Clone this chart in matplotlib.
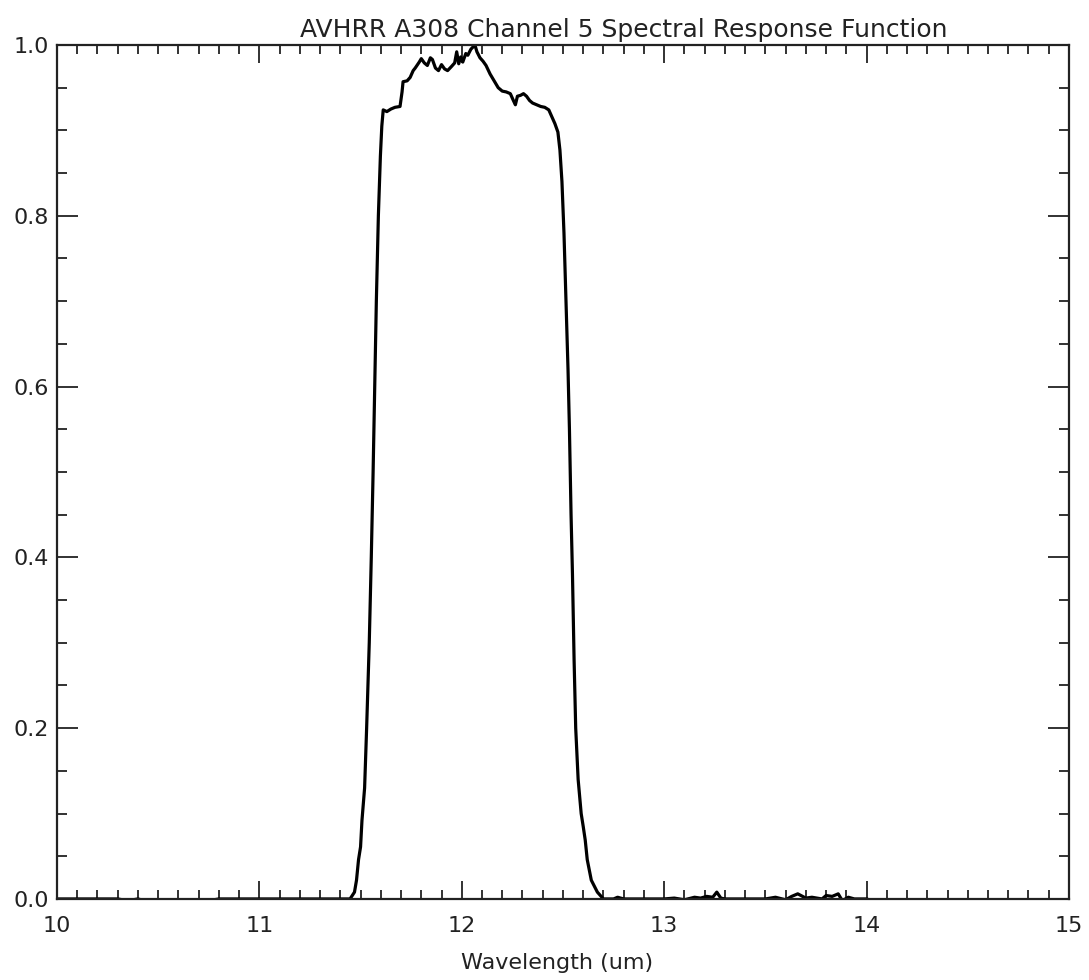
import matplotlib
matplotlib.use("Agg")
import matplotlib.pyplot as plt
from matplotlib.ticker import MultipleLocator

# Spectral response
wavelength = [
    10.00, 10.30, 10.35, 10.40, 10.45, 10.50, 10.55, 10.60, 10.65, 10.70, 10.75, 10.80,
    11.00, 11.20, 11.40, 11.448,
    11.47, 11.48, 11.49, 11.50, 11.507, 11.52, 11.53, 11.543, 11.553, 11.562, 11.570,
    11.578, 11.588, 11.598, 11.605, 11.612, 11.63, 11.65, 11.67, 11.695, 11.705, 11.71,
    11.73, 11.745, 11.76, 11.77, 11.79, 11.80, 11.815, 11.83, 11.845, 11.855, 11.87,
    11.885, 11.90, 11.915, 11.93, 11.95, 11.965, 11.975, 11.985, 11.995, 12.005, 12.02,
    12.03, 12.045, 12.065, 12.075, 12.09, 12.105, 12.12, 12.14, 12.16, 12.18, 12.20,
    12.22, 12.24, 12.255, 12.265, 12.275, 12.29, 12.305, 12.32, 12.335, 12.35, 12.37,
    12.39, 12.41, 12.43, 12.445, 12.46, 12.475, 12.485, 12.495, 12.505, 12.515, 12.525,
    12.532, 12.54, 12.547, 12.555, 12.563, 12.575, 12.590, 12.600, 12.61, 12.62, 12.64,
    12.67, 12.70,
    12.75, 12.77, 12.80, 13.00, 13.05, 13.10, 13.15, 13.18, 13.21, 13.24, 13.26, 13.28,
    13.30, 13.50, 13.55, 13.60, 13.63, 13.66, 13.70, 13.73, 13.78, 13.80, 13.83, 13.86,
    13.88, 13.91, 13.94, 14.00,
]
response = [
    0.000, 0.000, -0.002, 0.000, -0.003, -0.001, -0.004, -0.002, -0.003, -0.001, -0.002, 0.000,
    0.000, 0.000, 0.000, 0.000,
    0.008, 0.022, 0.046, 0.061, 0.092, 0.130, 0.200, 0.300, 0.400, 0.500, 0.600,
    0.700, 0.800, 0.870, 0.905, 0.924, 0.922, 0.925, 0.927, 0.928, 0.945, 0.957,
    0.958, 0.962, 0.970, 0.973, 0.980, 0.984, 0.979, 0.976, 0.985, 0.983, 0.973,
    0.970, 0.977, 0.972, 0.970, 0.975, 0.979, 0.992, 0.978, 0.986, 0.980, 0.990,
    0.988, 0.995, 1.000, 0.992, 0.985, 0.981, 0.976, 0.966, 0.958, 0.950, 0.946,
    0.945, 0.943, 0.935, 0.930, 0.940, 0.941, 0.943, 0.940, 0.935, 0.932, 0.930,
    0.928, 0.927, 0.924, 0.916, 0.908, 0.898, 0.877, 0.840, 0.780, 0.700, 0.620,
    0.550, 0.450, 0.380, 0.280, 0.200, 0.140, 0.100, 0.085, 0.069, 0.046, 0.022,
    0.008, 0.000,
    0.000, 0.002, 0.000, 0.000, 0.001, -0.001, 0.002, 0.001, 0.003, 0.002, 0.008, 0.001,
    0.000, 0.000, 0.002, -0.001, 0.003, 0.006, 0.001, 0.002, 0.000, 0.004, 0.003, 0.006,
    -0.002, 0.002, 0.000, 0.000,
]

title = "AVHRR A308 Channel 5 Spectral Response Function"
xlabel = "Wavelength (um)"
xticks = [10, 11, 12, 13, 14, 15]
yticks = [0.0, 0.2, 0.4, 0.6, 0.8, 1.0]

plt.rcParams['font.family'] = ['DejaVu Sans']

fig = plt.figure(figsize=(10.89, 9.80), dpi=100)
ax = fig.add_axes([0.0523, 0.0827, 0.9293, 0.8714])

ax.plot(wavelength, response, color='black', linewidth=2.3)

ax.set_xlim(10, 15)
ax.set_ylim(0, 1.0)
ax.set_xticks(xticks)
ax.set_xticklabels([str(t) for t in xticks])
ax.set_yticks(yticks)
ax.set_yticklabels([f"{t:.1f}" for t in yticks])
ax.xaxis.set_minor_locator(MultipleLocator(0.1))
ax.yaxis.set_minor_locator(MultipleLocator(0.05))

ax.tick_params(which='both', direction='in', top=True, right=True, width=1.3, colors='#222222')
ax.tick_params(axis='x', which='major', length=13, pad=12, labelsize=16)
ax.tick_params(axis='x', which='minor', length=6.5)
ax.tick_params(axis='y', which='major', length=15, pad=6, labelsize=16)
ax.tick_params(axis='y', which='minor', length=7.5)
for sp in ax.spines.values():
    sp.set_linewidth(1.6)
    sp.set_color('#222222')

ax.set_title(title, fontsize=18, pad=6, color='#222222', x=0.56)
ax.set_xlabel(xlabel, fontsize=16, color='#222222')
ax.xaxis.set_label_coords(0.494, -0.063)

fig.savefig("out.png", dpi=100)
